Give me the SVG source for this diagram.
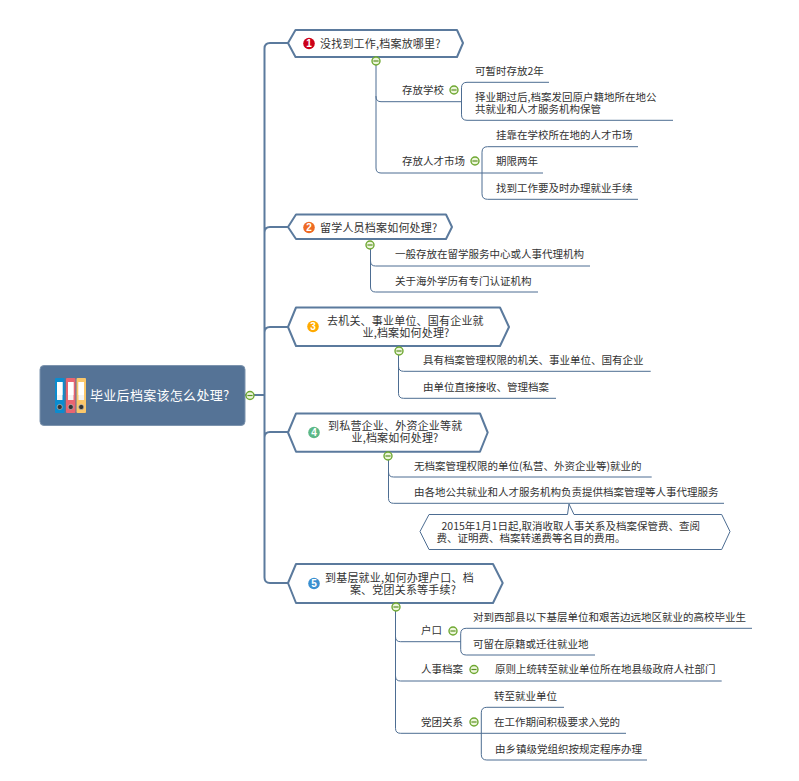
<svg xmlns="http://www.w3.org/2000/svg" width="799" height="781" viewBox="0 0 799 781">
<defs>
<g id="fold"><circle r="4" fill="#eef6dc" stroke="#6ea832" stroke-width="1.4"/><line x1="-2.6" x2="2.6" y1="0" y2="0" stroke="#5a8f24" stroke-width="1.2"/></g>
<g id="binder"><rect width="9.5" height="35" rx="1"/><rect x="2" y="4" width="5.5" height="18" fill="#f4f4f4"/><rect x="2" y="4" width="5.5" height="13" fill="#fff"/><circle cx="4.75" cy="29" r="2.6" fill="#333" stroke="#ccc" stroke-width=".6"/></g>
</defs>
<style>
text{font-family:"Noto Sans CJK SC","Liberation Sans",sans-serif;fill:#333}
.t{font-size:11px;letter-spacing:.2px}
.l{font-size:10.5px}
.c{text-anchor:middle}
.hex{fill:#fff;stroke:#5b7a9d;stroke-width:2;stroke-linejoin:round}
.thin{fill:#fff;stroke:#4d6d92;stroke-width:1;stroke-linejoin:round}
.n{font-size:10px;fill:#fff;text-anchor:middle;font-family:"Liberation Sans",sans-serif;font-weight:bold}
#connectors path{fill:none;stroke:#4d6d92;stroke-width:1}
#connectors path.trunk{stroke:#5b7a9d;stroke-width:2}
</style>
<rect width="799" height="781" fill="#fff"/>
<g id="connectors">
<path class="trunk" d="M245 395H264.500M288 43H270Q264.500 43 264.500 48.500V577.500Q264.500 583 270 583H288M288 227H270Q264.500 227 264.500 232.500M288 327H270Q264.500 327 264.500 332.500M288 432H270Q264.500 432 264.500 437.500"/>
<path d="M376 65V96.700Q376 101.700 381 101.700H461.500M376 96V168Q376 173 381 173H543"/>
<path d="M549 82.300H467Q461.500 82.300 461.500 87.800V114.800Q461.500 120.300 467 120.300H673"/>
<path d="M638 146.700H487.500Q482 146.700 482 152.200V193.800Q482 199.300 487.500 199.300H638"/>
<path d="M370.500 249V261Q370.500 266 375.500 266H590M370.500 260V287Q370.500 292 375.500 292H538"/>
<path d="M398.500 355V366.300Q398.500 371.300 403.500 371.300H650.700M398.500 365V393.300Q398.500 398.300 403.500 398.300H556"/>
<path d="M388.500 460V472Q388.500 477 393.500 477H651.700M388.500 471V498.300Q388.500 503.300 393.500 503.300H724"/>
<path d="M395.500 611V636.700Q395.500 641.700 400.500 641.700H460.700M395.500 636V676Q395.500 681 400.500 681H721.700M395.500 676V728.300Q395.500 733.300 400.500 733.300H626"/>
<path d="M752 628.300H466.200Q460.700 628.300 460.700 633.800V649.500Q460.700 655 466.200 655H595"/>
<path d="M564 707.300H486.800Q481.300 707.300 481.300 712.800V754.500Q481.300 760 486.800 760H647"/>
</g>
<g id="root">
<rect x="40" y="365.500" width="205" height="60" rx="4" fill="#557396" stroke="#7d94ae"/>
<use href="#binder" x="55" y="378" fill="#0b8ccf"/>
<use href="#binder" x="66" y="378" fill="#ea6570"/>
<use href="#binder" x="76.500" y="378" fill="#fbc76a"/>
<text x="90" y="399.500" font-size="13" letter-spacing=".3" style="fill:#fff">毕业后档案该怎么处理?</text>
<use href="#fold" x="250" y="395.500"/>
</g>
<g id="n1">
<polygon class="hex" points="288,43 295.500,30 457,30 463,43 457,57 295.500,57"/>
<circle cx="309" cy="43.500" r="5.800" fill="#cc0018"/><text class="n" x="309" y="47">1</text>
<text class="t" x="320" y="47.500">没找到工作,档案放哪里?</text>
<use href="#fold" x="376" y="61"/>
</g>
<g id="n1a"><text class="l" x="402" y="94">存放学校</text><use href="#fold" x="454" y="90"/></g>
<g id="n1a1"><text class="l" x="475" y="75">可暂时存放2年</text></g>
<g id="n1a2"><text class="l" x="475" y="100.500">择业期过后,档案发回原户籍地所在地公</text><text class="l" x="475" y="112.500">共就业和人才服务机构保管</text></g>
<g id="n1b"><text class="l" x="402" y="165">存放人才市场</text><use href="#fold" x="475" y="161"/></g>
<g id="n1b1"><text class="l" x="496" y="139">挂靠在学校所在地的人才市场</text></g>
<g id="n1b2"><text class="l" x="496" y="165">期限两年</text></g>
<g id="n1b3"><text class="l" x="496" y="192">找到工作要及时办理就业手续</text></g>
<g id="n2">
<polygon class="hex" points="288,227 296,214.500 446,214.500 452,227 446,239 296,239"/>
<circle cx="309" cy="227.500" r="5.800" fill="#ee6a23"/><text class="n" x="309" y="231">2</text>
<text class="t" x="320" y="231.500">留学人员档案如何处理?</text>
<use href="#fold" x="370" y="245"/>
</g>
<g id="n2a"><text class="l" x="395" y="258">一般存放在留学服务中心或人事代理机构</text></g>
<g id="n2b"><text class="l" x="395" y="285">关于海外学历有专门认证机构</text></g>
<g id="n3">
<polygon class="hex" points="288,327 296,307.500 500,307.500 509,327 500,346 296,346"/>
<circle cx="313" cy="326.500" r="5.800" fill="#ffaa00"/><text class="n" x="313" y="330">3</text>
<text class="t" x="327" y="325">去机关、事业单位、国有企业就</text>
<text class="t c" x="406" y="337">业,档案如何处理?</text>
<use href="#fold" x="399" y="351"/>
</g>
<g id="n3a"><text class="l" x="423" y="364">具有档案管理权限的机关、事业单位、国有企业</text></g>
<g id="n3b"><text class="l" x="423" y="391">由单位直接接收、管理档案</text></g>
<g id="n4">
<polygon class="hex" points="288,432.500 296,413.500 480,413.500 487.700,432.500 480,451.700 296,451.700"/>
<circle cx="314" cy="432.500" r="5.800" fill="#5cb887"/><text class="n" x="314" y="436">4</text>
<text class="t" x="328" y="430">到私营企业、外资企业等就</text>
<text class="t c" x="395" y="442">业,档案如何处理?</text>
<use href="#fold" x="388" y="456"/>
</g>
<g id="n4a"><text class="l" x="414" y="470">无档案管理权限的单位(私营、外资企业等)就业的</text></g>
<g id="n4b"><text class="l" x="414" y="496">由各地公共就业和人才服务机构负责提供档案管理等人事代理服务</text></g>
<g id="n4c">
<path class="thin" d="M420 531.500L429 514.500H567.500L569 504L574 514.500H721.700L730 531.500L721.700 549.500H429Z"/>
<text class="l" x="441.500" y="530">2015年1月1日起,取消收取人事关系及档案保管费、查阅</text>
<text class="l" x="436.500" y="542">费、证明费、档案转递费等名目的费用。</text>
</g>
<g id="n5">
<polygon class="hex" points="288,583 296,564 493,564 502.700,583 493,603 296,603"/>
<circle cx="314" cy="583.500" r="5.800" fill="#3a8fd0"/><text class="n" x="314" y="587">5</text>
<text class="t" x="325" y="582">到基层就业,如何办理户口、档</text>
<text class="t c" x="403" y="594">案、党团关系等手续?</text>
<use href="#fold" x="396" y="607"/>
</g>
<g id="n5a"><text class="l" x="421" y="634">户口</text><use href="#fold" x="453" y="631"/></g>
<g id="n5a1"><text class="l" x="473" y="621">对到西部县以下基层单位和艰苦边远地区就业的高校毕业生</text></g>
<g id="n5a2"><text class="l" x="473" y="648">可留在原籍或迁往就业地</text></g>
<g id="n5b"><text class="l" x="421" y="673">人事档案</text><use href="#fold" x="474" y="669.500"/></g>
<g id="n5b1"><text class="l" x="495" y="673">原则上统转至就业单位所在地县级政府人社部门</text></g>
<g id="n5c"><text class="l" x="421" y="726">党团关系</text><use href="#fold" x="474" y="722"/></g>
<g id="n5c1"><text class="l" x="494" y="700">转至就业单位</text></g>
<g id="n5c2"><text class="l" x="494" y="726">在工作期间积极要求入党的</text></g>
<g id="n5c3"><text class="l" x="495" y="753">由乡镇级党组织按规定程序办理</text></g>
</svg>
